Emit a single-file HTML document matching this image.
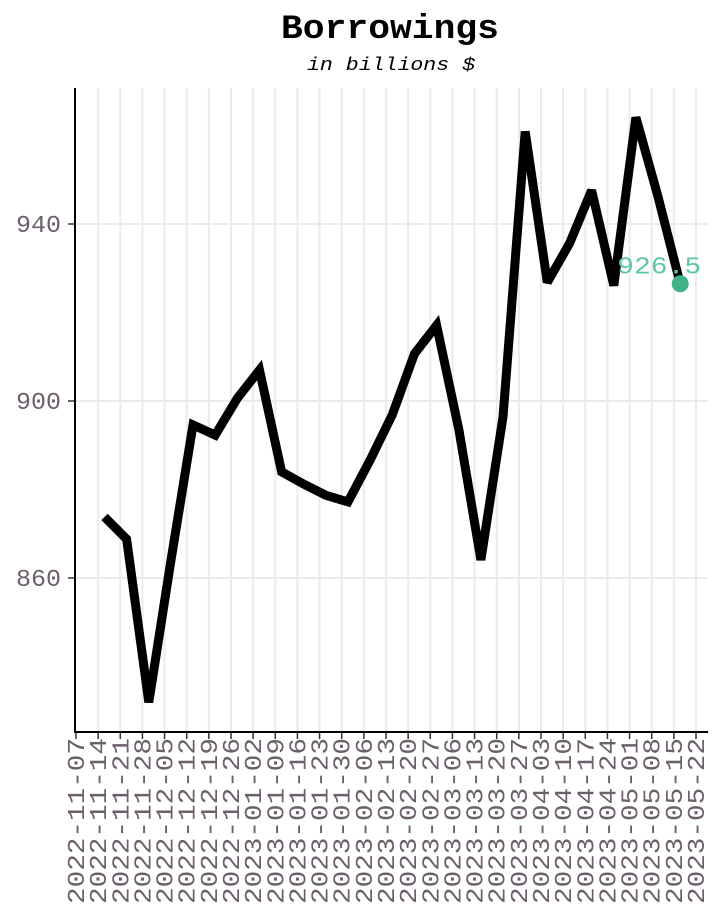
<!DOCTYPE html>
<html><head><meta charset="utf-8"><style>
html,body{margin:0;padding:0;background:#fff;}
svg{display:block;}
text{font-family:"Liberation Mono",monospace;}
</style></head>
<body>
<svg id="chart" width="720" height="921" viewBox="0 0 720 921" xmlns="http://www.w3.org/2000/svg">
<text x="390" y="38" text-anchor="middle" font-size="34" font-weight="bold" textLength="218" lengthAdjust="spacingAndGlyphs">Borrowings</text>
<text x="391" y="70" text-anchor="middle" font-size="18.5" font-style="italic" textLength="168" lengthAdjust="spacingAndGlyphs">in billions $</text>
<g id="grid"></g>
<g id="marks"></g>
<g id="axes"></g>
</svg>
<script>
const tickDates = ["2022-11-07","2022-11-14","2022-11-21","2022-11-28","2022-12-05","2022-12-12","2022-12-19","2022-12-26","2023-01-02","2023-01-09","2023-01-16","2023-01-23","2023-01-30","2023-02-06","2023-02-13","2023-02-20","2023-02-27","2023-03-06","2023-03-13","2023-03-20","2023-03-27","2023-04-03","2023-04-10","2023-04-17","2023-04-24","2023-05-01","2023-05-08","2023-05-15","2023-05-22"];
const yTicks = [860, 900, 940];
const dates = ["2022-11-16","2022-11-23","2022-11-30","2022-12-07","2022-12-14","2022-12-21","2022-12-28","2023-01-04","2023-01-11","2023-01-18","2023-01-25","2023-02-01","2023-02-08","2023-02-15","2023-02-22","2023-03-01","2023-03-08","2023-03-15","2023-03-22","2023-03-29","2023-04-05","2023-04-12","2023-04-19","2023-04-26","2023-05-03","2023-05-10","2023-05-17"];
const values = [873.8,868.8,831.9,863.9,894.6,892.3,900.6,907.0,884.0,881.2,878.7,877.2,886.7,896.9,910.7,917.1,893.6,864.1,896.4,960.9,926.8,935.6,947.6,926.1,964.1,946.2,926.5];
const lastLabel = "926.5";

const NS="http://www.w3.org/2000/svg";
const X0=76, X1=696, PT=88, PB=732, AX=75;
const d0=Date.parse(tickDates[0]), d1=Date.parse(tickDates[tickDates.length-1]);
function xs(d){return X0+(Date.parse(d)-d0)/(d1-d0)*(X1-X0);}
function ys(v){return 224+(940-v)*4.425;}
function mk(tag,attrs,parent){const e=document.createElementNS(NS,tag);for(const k in attrs)e.setAttribute(k,attrs[k]);parent.appendChild(e);return e;}
const grid=document.getElementById('grid'), marks=document.getElementById('marks'), axes=document.getElementById('axes');

tickDates.forEach(d=>{
  const x=xs(d);
  if(x>AX+1){const g=mk('line',{x1:x,x2:x,y1:PT,y2:PB,stroke:'#ebebeb','stroke-width':2},grid);
  
  }
  const t=mk('line',{x1:x,x2:x,y1:PB,y2:PB+7,stroke:'#333','stroke-width':1.5},axes);
  
  
  const lb=mk('text',{x:0,y:0,transform:`translate(${x+8},${PB+6}) rotate(-90)`,'text-anchor':'end','font-size':24,fill:'#6b5f6b',textLength:166,lengthAdjust:'spacingAndGlyphs'},axes);
  lb.textContent=d;
  
  
});
yTicks.forEach(v=>{
  const y=ys(v);
  const g=mk('line',{x1:AX,x2:708,y1:y,y2:y,stroke:'#ebebeb','stroke-width':2},grid);
  
  
  const t=mk('line',{x1:68,x2:AX,y1:y,y2:y,stroke:'#333','stroke-width':1.5},axes);
  
  
  const lb=mk('text',{x:61,y:y+8,'text-anchor':'end','font-size':24,fill:'#6b5f6b',textLength:45,lengthAdjust:'spacingAndGlyphs'},axes);
  lb.textContent=String(v);
  
  
});
const yax=mk('line',{x1:AX,x2:AX,y1:PT,y2:PB+1,stroke:'#000','stroke-width':2},axes);


const xax=mk('line',{x1:AX-1,x2:708,y1:PB,y2:PB,stroke:'#000','stroke-width':2},axes);



const pts=dates.map((d,i)=>xs(d).toFixed(1)+','+ys(values[i]).toFixed(1)).join(' ');
const line=mk('polyline',{points:pts,fill:'none',stroke:'#000','stroke-width':9,'stroke-linejoin':'miter','stroke-miterlimit':3},marks);


const li=dates.length-1;
const dot=mk('circle',{cx:xs(dates[li]),cy:ys(values[li]),r:8.5,fill:'#40b488'},marks);


const vl=mk('text',{x:xs(dates[li])+21,y:ys(values[li])-10,'text-anchor':'end','font-size':24,fill:'#5fc6a2',textLength:84,lengthAdjust:'spacingAndGlyphs'},marks);
vl.textContent=lastLabel;


</script>
</body></html>
